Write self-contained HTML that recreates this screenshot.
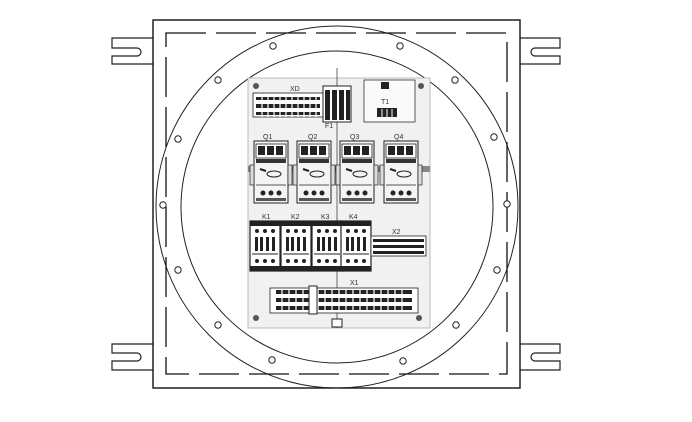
<!DOCTYPE html>
<html><head><meta charset="utf-8"><style>
html,body{margin:0;padding:0;background:#fff;width:692px;height:422px;overflow:hidden}
svg{display:block}
text{font-family:"Liberation Sans",sans-serif;font-size:7px;fill:#333}
</style></head><body>
<svg width="692" height="422" viewBox="0 0 692 422" xmlns="http://www.w3.org/2000/svg">
<defs>
<g id="q">
 <rect x="0" y="0" width="34" height="62" fill="#f4f4f4" stroke="#222" stroke-width="1"/>
 <rect x="2" y="3" width="30" height="14" fill="#fff" stroke="#222" stroke-width="0.8"/>
 <rect x="4" y="5" width="7" height="9" fill="#222"/><rect x="13" y="5" width="7" height="9" fill="#222"/><rect x="22" y="5" width="7" height="9" fill="#222"/>
 <rect x="2" y="18" width="30" height="4" fill="#333"/>
 <rect x="-4" y="24" width="4" height="20" fill="#ddd" stroke="#222" stroke-width="0.7"/>
 <rect x="34" y="24" width="4" height="20" fill="#ddd" stroke="#222" stroke-width="0.7"/>
 <ellipse cx="20" cy="33" rx="7" ry="3" fill="none" stroke="#222" stroke-width="1"/>
 <path d="M6 28 L12 30" stroke="#222" stroke-width="2"/>
 <line x1="2" y1="44" x2="32" y2="44" stroke="#222" stroke-width="0.8"/>
 <circle cx="9" cy="52" r="2.5" fill="#222"/><circle cx="17" cy="52" r="2.5" fill="#222"/><circle cx="25" cy="52" r="2.5" fill="#222"/>
 <rect x="2" y="57" width="30" height="3" fill="#555"/>
</g>
<g id="k">
 <rect x="0" y="0" width="30" height="50" fill="#fff" stroke="#222" stroke-width="1.2"/>
 <rect x="0" y="0" width="30" height="5" fill="#222"/>
 <circle cx="7" cy="10" r="2" fill="#222"/><circle cx="15" cy="10" r="2" fill="#222"/><circle cx="23" cy="10" r="2" fill="#222"/>
 <rect x="5" y="16" width="3" height="14" fill="#222"/><rect x="10" y="16" width="3" height="14" fill="#222"/><rect x="16" y="16" width="3" height="14" fill="#222"/><rect x="22" y="16" width="3" height="14" fill="#222"/>
 <line x1="2" y1="33" x2="28" y2="33" stroke="#222"/>
 <circle cx="7" cy="40" r="2" fill="#222"/><circle cx="15" cy="40" r="2" fill="#222"/><circle cx="23" cy="40" r="2" fill="#222"/>
 <rect x="0" y="45" width="30" height="5" fill="#222"/>
</g>
<g id="t">
 <rect x="0" y="0" width="5" height="26" fill="#fff" stroke="#222" stroke-width="0.6"/>
 <rect x="1" y="4" width="3" height="4" fill="#222"/><rect x="1" y="11" width="3" height="4" fill="#222"/><rect x="1" y="18" width="3" height="4" fill="#222"/>
</g>
<g id="h"><circle r="3.2" fill="#fff" stroke="#222" stroke-width="1"/></g>
</defs>

<!-- tabs -->
<g fill="#fff" stroke="#222" stroke-width="1.2">
<path d="M153 38 H112 V48 H137 A4 4 0 0 1 137 56 H112 V64 H153"/>
<path d="M153 344 H112 V353 H137 A4 4 0 0 1 137 361 H112 V370 H153"/>
<path d="M520 38 H560 V48 H535 A4 4 0 0 0 535 56 H560 V64 H520"/>
<path d="M520 344 H560 V353 H535 A4 4 0 0 0 535 361 H560 V370 H520"/>
</g>
<rect x="153" y="20" width="367" height="368" fill="#fff" stroke="#111" stroke-width="1.4"/>
<rect x="166" y="33" width="341" height="341" fill="none" stroke="#111" stroke-width="1.3" stroke-dasharray="40 10"/>
<circle cx="337" cy="207" r="181" fill="none" stroke="#222" stroke-width="1"/>
<circle cx="337" cy="207" r="156" fill="none" stroke="#222" stroke-width="1"/>
<!-- holes -->
<use href="#h" x="273" y="46"/><use href="#h" x="400" y="46"/>
<use href="#h" x="218" y="80"/><use href="#h" x="455" y="80"/>
<use href="#h" x="178" y="139"/><use href="#h" x="494" y="137"/>
<use href="#h" x="163" y="205"/><use href="#h" x="507" y="204"/>
<use href="#h" x="178" y="270"/><use href="#h" x="497" y="270"/>
<use href="#h" x="218" y="325"/><use href="#h" x="456" y="325"/>
<use href="#h" x="272" y="360"/><use href="#h" x="403" y="361"/>

<!-- panel -->
<rect x="248" y="78" width="182" height="250" fill="#f1f1f1" stroke="#bbb" stroke-width="1"/>
<line x1="337" y1="68" x2="337" y2="328" stroke="#444" stroke-width="0.8"/>
<circle cx="256" cy="86" r="3" fill="#555"/><circle cx="421" cy="86" r="3" fill="#555"/>
<circle cx="256" cy="318" r="3" fill="#555"/><circle cx="419" cy="318" r="3" fill="#555"/>

<!-- XD -->
<text x="290" y="91">XD</text>
<rect x="253" y="93" width="70" height="24" fill="#fff" stroke="#222" stroke-width="0.8"/>
<g fill="#222">
<rect x="256" y="97" width="64" height="3"/><rect x="256" y="104" width="64" height="4"/><rect x="256" y="112" width="64" height="3"/>
</g>
<g stroke="#fff" stroke-width="1.2">
<line x1="262" y1="95" x2="262" y2="117"/><line x1="268" y1="95" x2="268" y2="117"/><line x1="274" y1="95" x2="274" y2="117"/><line x1="280" y1="95" x2="280" y2="117"/><line x1="286" y1="95" x2="286" y2="117"/><line x1="292" y1="95" x2="292" y2="117"/><line x1="298" y1="95" x2="298" y2="117"/><line x1="304" y1="95" x2="304" y2="117"/><line x1="310" y1="95" x2="310" y2="117"/><line x1="316" y1="95" x2="316" y2="117"/>
</g>
<rect x="323" y="86" width="28" height="36" fill="#fff" stroke="#222"/>
<g fill="#222"><rect x="325" y="90" width="5" height="30"/><rect x="332" y="90" width="5" height="30"/><rect x="339" y="90" width="5" height="30"/><rect x="346" y="90" width="4" height="30"/></g>
<text x="325" y="128">F1</text>
<!-- T1 -->
<rect x="364" y="80" width="51" height="42" fill="#fafafa" stroke="#333" stroke-width="0.8"/>
<rect x="381" y="82" width="8" height="7" fill="#222"/>
<text x="381" y="104">T1</text>
<rect x="377" y="108" width="20" height="9" fill="#222"/>
<g stroke="#fff"><line x1="382" y1="109" x2="382" y2="117"/><line x1="387" y1="109" x2="387" y2="117"/><line x1="392" y1="109" x2="392" y2="117"/></g>

<!-- Q -->
<line x1="248" y1="169" x2="430" y2="169" stroke="#888" stroke-width="6"/>
<text x="263" y="139">Q1</text><text x="308" y="139">Q2</text><text x="350" y="139">Q3</text><text x="394" y="139">Q4</text>
<use href="#q" x="254" y="141"/><use href="#q" x="297" y="141"/><use href="#q" x="340" y="141"/><use href="#q" x="384" y="141"/>

<!-- K -->
<text x="262" y="219">K1</text><text x="291" y="219">K2</text><text x="321" y="219">K3</text><text x="349" y="219">K4</text>
<use href="#k" x="250" y="221"/><use href="#k" x="281" y="221"/><use href="#k" x="312" y="221"/><use href="#k" x="341" y="221"/>
<text x="392" y="234">X2</text>
<rect x="371" y="236" width="55" height="20" fill="#fff" stroke="#222" stroke-width="0.8"/>
<g fill="#222"><rect x="373" y="239" width="51" height="3"/><rect x="373" y="245" width="51" height="3"/><rect x="373" y="251" width="51" height="3"/></g>

<!-- X1 -->
<text x="350" y="285">X1</text>
<rect x="270" y="288" width="148" height="25" fill="#fff" stroke="#222" stroke-width="0.8"/>
<g fill="#222"><rect x="276" y="290" width="136" height="4"/><rect x="276" y="298" width="136" height="4"/><rect x="276" y="306" width="136" height="4"/></g>
<g stroke="#fff" stroke-width="1.2">
<line x1="282" y1="289" x2="282" y2="312"/><line x1="289" y1="289" x2="289" y2="312"/><line x1="296" y1="289" x2="296" y2="312"/><line x1="303" y1="289" x2="303" y2="312"/><line x1="318" y1="289" x2="318" y2="312"/><line x1="325" y1="289" x2="325" y2="312"/><line x1="332" y1="289" x2="332" y2="312"/><line x1="339" y1="289" x2="339" y2="312"/><line x1="346" y1="289" x2="346" y2="312"/><line x1="353" y1="289" x2="353" y2="312"/><line x1="360" y1="289" x2="360" y2="312"/><line x1="367" y1="289" x2="367" y2="312"/><line x1="374" y1="289" x2="374" y2="312"/><line x1="381" y1="289" x2="381" y2="312"/><line x1="388" y1="289" x2="388" y2="312"/><line x1="395" y1="289" x2="395" y2="312"/><line x1="402" y1="289" x2="402" y2="312"/>
</g>
<rect x="309" y="286" width="8" height="28" fill="#fff" stroke="#222"/>
<rect x="332" y="319" width="10" height="8" fill="#fff" stroke="#222"/>
</svg>
</body></html>
